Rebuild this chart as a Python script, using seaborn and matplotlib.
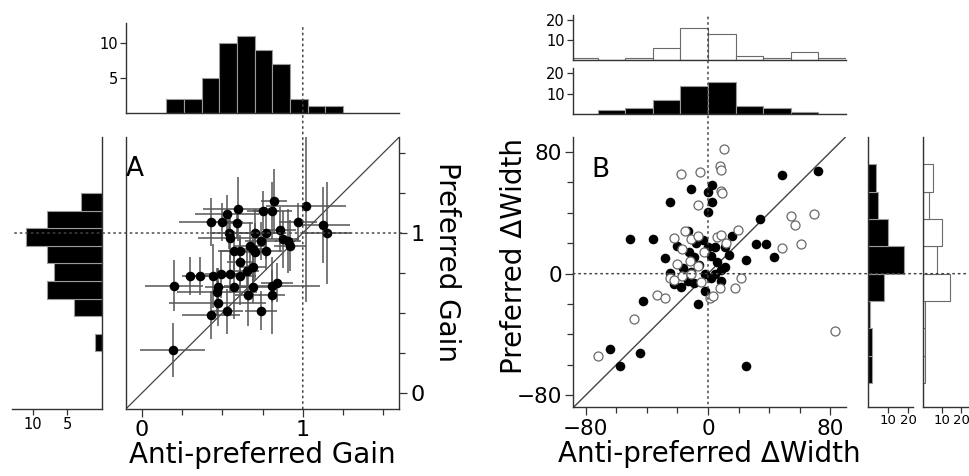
import matplotlib
matplotlib.use("Agg")
import matplotlib.pyplot as plt
import numpy as np
import seaborn as sns
from matplotlib.patches import ConnectionPatch

sns.set_theme(style="ticks")
plt.rcParams["font.family"] = ["DejaVu Sans"]
plt.rcParams["text.color"] = "black"
plt.rcParams["axes.labelcolor"] = "black"

# ---- panel A: gains ------------------------------------------------------
gain_anti = [0.19, 0.20, 0.30, 0.36, 0.44, 0.49, 0.55, 0.61, 0.65, 0.465,
             0.57, 0.66, 0.69, 0.47, 0.43, 0.53, 0.74, 0.81, 0.81, 0.84,
             0.61, 0.57, 0.61, 0.67, 0.69, 0.70, 0.77, 0.55, 0.54, 0.70,
             0.77, 0.86, 0.875, 0.91, 0.92, 0.43, 0.50, 0.59, 0.53, 0.60,
             0.75, 0.81, 0.82, 0.97, 1.02, 1.125, 1.15, 0.69, 0.47, 0.74]
gain_pref = [0.27, 0.67, 0.73, 0.73, 0.73, 0.745, 0.745, 0.73, 0.76, 0.63,
             0.66, 0.61, 0.66, 0.56, 0.49, 0.51, 0.515, 0.61, 0.67, 0.69,
             0.82, 0.89, 0.89, 0.92, 0.90, 0.88, 0.89, 0.97, 1.00, 1.00,
             1.00, 1.02, 0.96, 0.95, 0.92, 1.07, 1.07, 1.06, 1.12, 1.15,
             1.14, 1.14, 1.20, 1.07, 1.17, 1.05, 1.00, 0.79, 0.66, 0.95]
gain_anti_err = [0.20, 0.18, 0.05, 0.05, 0.17, 0.10, 0.12, 0.10, 0.08, 0.25,
                 0.10, 0.08, 0.12, 0.30, 0.18, 0.10, 0.10, 0.08, 0.30, 0.10,
                 0.08, 0.10, 0.12, 0.10, 0.08, 0.10, 0.10, 0.20, 0.12, 0.10,
                 0.12, 0.10, 0.10, 0.08, 0.10, 0.20, 0.10, 0.10, 0.20, 0.22,
                 0.10, 0.12, 0.08, 0.12, 0.25, 0.17, 0.15, 0.08, 0.08, 0.10]
gain_pref_err = [0.17, 0.16, 0.12, 0.12, 0.20, 0.15, 0.12, 0.18, 0.14, 0.15,
                 0.20, 0.19, 0.10, 0.14, 0.15, 0.14, 0.12, 0.24, 0.10, 0.12,
                 0.15, 0.12, 0.10, 0.15, 0.12, 0.18, 0.12, 0.14, 0.10, 0.15,
                 0.16, 0.14, 0.18, 0.20, 0.16, 0.15, 0.12, 0.10, 0.12, 0.20,
                 0.12, 0.18, 0.20, 0.12, 0.60, 0.24, 0.32, 0.10, 0.12, 0.12]

gain_edges = [0.15, 0.26, 0.37, 0.48, 0.59, 0.70, 0.81, 0.92, 1.03, 1.14, 1.25]
gain_anti_counts = [2, 2, 5, 10, 11, 9, 7, 2, 1, 1]
gain_pref_counts = [0, 1, 0, 4, 8, 7, 8, 11, 8, 3]

# ---- panel B: widths -----------------------------------------------------
filled_anti = [48.6, 71.9, 33.8, 31.4, 38.2, 43.0, 25.0, 16.0, -11.4, -24.5,
               2.4, 0.0, 2.6, 0.3, -51.0, -36.1, -64.2, -57.6, -44.5, 25.0,
               -42.6, -6.5, -2.2, -17.7, -22.4, -25.0, -13.3, -20.5, -12.2, -8.9,
               -5.6, -11.0, 0.0, 4.4, 11.4, 2.2, 10.9, 8.8, 4.4, -2.1,
               8.7, -13.0, -8.0, -16.0, -9.0, 6.0, 14.0, 2.0, -3.0, -28.0]
filled_pref = [65.0, 67.4, 35.8, 19.8, 19.8, 11.0, 8.8, 24.7, 56.0, 47.3,
               58.4, 54.0, 47.3, 40.4, 22.5, 22.5, -49.4, -60.9, -52.0, -60.9,
               -18.2, -20.2, -11.2, -9.0, -6.5, 0.2, -4.6, 18.3, 14.3, 11.0,
               5.5, 1.0, 17.6, 17.6, 17.6, 11.5, 4.4, 2.2, 0.0, 0.0,
               -4.6, 28.0, 20.0, 4.0, -6.0, 8.0, 12.0, -3.0, 22.0, 10.0]
open_anti = [10.2, -17.4, -5.4, 7.6, 8.5, 8.7, 9.4, -6.5, 69.3, 54.1,
             56.9, 19.6, -22.5, -14.8, -10.9, -6.5, 5.9, 8.7, 12.0, 48.6,
             61.0, -17.2, -20.0, -12.0, -6.5, -24.6, -22.5, -16.8, -11.3, -4.4,
             -2.8, 21.8, 17.4, 8.1, 1.1, 3.3, -33.4, -27.9, -48.4, -72.0, 83.3]
open_pref = [81.8, 65.7, 67.2, 70.7, 68.5, 54.7, 53.1, 45.4, 39.2, 37.7,
             32.0, 28.9, 23.4, 27.8, 23.1, 24.7, 24.2, 25.3, 20.5, 16.8,
             19.4, 16.1, 6.2, 8.4, 5.1, -2.6, -4.4, -1.8, 0.0, -5.3,
             14.5, -2.6, -9.3, -9.7, -16.3, -14.8, -13.7, -16.3, -29.8, -54.4, -37.9]

width_edges = [-90, -72, -54, -36, -18, 0, 18, 36, 54, 72, 90]
filled_anti_counts = [0, 2, 3, 7, 14, 16, 4, 3, 1, 0]
open_anti_counts = [1, 0, 1, 6, 16, 13, 2, 1, 4, 1]
filled_pref_counts = [0, 2, 2, 1, 8, 18, 10, 5, 4, 0]
open_pref_counts = [0, 1, 1, 1, 14, 7, 10, 3, 5, 0]

SPINE = "#333333"
FILL_EDGE = "#9a9a9a"
OPEN_EDGE = "#6a6a6a"


def style_axes(ax, spines, size=10):
    for side in ["top", "bottom", "left", "right"]:
        ax.spines[side].set_visible(side in spines)
        ax.spines[side].set_color(SPINE)
        ax.spines[side].set_linewidth(1.0)
    ax.tick_params(which="both", direction="out", color=SPINE, width=0.9,
                   labelsize=size, labelcolor="black", pad=2)
    ax.tick_params(which="major", length=4)
    ax.set_xlabel("")
    ax.set_ylabel("")


def centers(edges):
    e = np.asarray(edges, dtype=float)
    return (e[:-1] + e[1:]) / 2


def hist(ax, edges, counts, filled, horizontal=False):
    kw = dict(weights=counts, bins=edges, ax=ax, alpha=1, linewidth=0.8)
    if filled:
        kw.update(color="black", edgecolor=FILL_EDGE)
    else:
        kw.update(color="white", edgecolor=OPEN_EDGE)
    if horizontal:
        sns.histplot(y=centers(edges), **kw)
    else:
        sns.histplot(x=centers(edges), **kw)


def link(fig, ax1, p1, ax2, p2):
    con = ConnectionPatch(xyA=p1, coordsA=ax1.transData, xyB=p2, coordsB=ax2.transData,
                          linestyle=(0, (1.0, 2.6)), color="#444444", linewidth=1.1,
                          zorder=5, clip_on=False)
    fig.add_artist(con)


fig = plt.figure(figsize=(9.69, 4.76), dpi=100)

# ================= panel A =================
ax_a = fig.add_axes([0.130, 0.141, 0.282, 0.571])
ax_a_top = fig.add_axes([0.130, 0.763, 0.282, 0.189])
ax_a_left = fig.add_axes([0.0124, 0.141, 0.093, 0.571])

lim_a = (-0.1, 1.6)
ax_a.plot(lim_a, lim_a, color="#444444", linewidth=0.9, zorder=1)
ax_a.errorbar(gain_anti, gain_pref, xerr=gain_anti_err, yerr=gain_pref_err,
              fmt="none", ecolor="#555555", elinewidth=1.1, capsize=0, zorder=2)
sns.scatterplot(x=gain_anti, y=gain_pref, ax=ax_a, color="black", s=48,
                linewidth=0, zorder=3)
ax_a.set_xlim(lim_a)
ax_a.set_ylim(lim_a)
style_axes(ax_a, ["left", "bottom", "right"], size=16)
ax_a.yaxis.tick_right()
ax_a.yaxis.set_label_position("right")
ax_a.set_xticks([0, 1])
ax_a.set_xticks([0.25, 0.5, 0.75, 1.25, 1.5], minor=True)
ax_a.set_yticks([0, 1])
ax_a.set_yticks([0.25, 0.5, 0.75, 1.25, 1.5], minor=True)
ax_a.tick_params(which="major", length=6)
ax_a.tick_params(which="minor", length=4)
ax_a.set_xlabel("Anti-preferred Gain", fontsize=20, labelpad=1)
ax_a.set_ylabel("Preferred Gain", fontsize=20, rotation=270, labelpad=26)
ax_a.yaxis.label.set_y(0.54)
ax_a.text(0.0, 0.855, "A", transform=ax_a.transAxes, fontsize=19,
          ha="left", va="baseline")

hist(ax_a_top, gain_edges, gain_anti_counts, filled=True)
ax_a_top.set_xlim(lim_a)
ax_a_top.set_ylim(0, 12.9)
style_axes(ax_a_top, ["left", "bottom"], size=10.5)
ax_a_top.set_xticks([])
ax_a_top.set_yticks([5, 10])

hist(ax_a_left, gain_edges, gain_pref_counts, filled=True, horizontal=True)
ax_a_left.set_ylim(lim_a)
ax_a_left.set_xlim(13, 0)
style_axes(ax_a_left, ["right", "bottom"], size=10.5)
ax_a_left.set_yticks([])
ax_a_left.set_xticks([10, 5])

link(fig, ax_a_top, (1, 12.2), ax_a, (1, lim_a[0]))
link(fig, ax_a_left, (12.6, 1), ax_a, (1.62, 1))

# ================= panel B =================
lim_b = (-88, 90)
ax_b = fig.add_axes([0.5917, 0.144, 0.281, 0.5685])
ax_b_open = fig.add_axes([0.5917, 0.875, 0.281, 0.093])
ax_b_fill = fig.add_axes([0.5917, 0.760, 0.281, 0.0966])
ax_b_rfill = fig.add_axes([0.896, 0.144, 0.0464, 0.5685])
ax_b_ropen = fig.add_axes([0.9528, 0.144, 0.0472, 0.5685])

ax_b.plot(lim_b, lim_b, color="#444444", linewidth=1.0, zorder=1)
sns.scatterplot(x=filled_anti, y=filled_pref, ax=ax_b, color="black", s=48,
                linewidth=0, zorder=3)
sns.scatterplot(x=open_anti, y=open_pref, ax=ax_b, facecolor="white",
                edgecolor=OPEN_EDGE, s=42, linewidth=0.9, zorder=4)
ax_b.set_xlim(lim_b)
ax_b.set_ylim(lim_b)
style_axes(ax_b, ["left", "bottom"], size=15.5)
ax_b.set_xticks([-80, 0, 80])
ax_b.set_xticks([-60, -40, -20, 20, 40, 60], minor=True)
ax_b.set_yticks([-80, 0, 80])
ax_b.set_yticks([-60, -40, -20, 20, 40, 60], minor=True)
ax_b.tick_params(which="major", length=6)
ax_b.tick_params(which="minor", length=4)
ax_b.set_xlabel("Anti-preferred \u0394Width", fontsize=20, labelpad=1)
ax_b.set_ylabel("Preferred \u0394Width", fontsize=20, labelpad=-8)
ax_b.yaxis.label.set_y(0.56)
ax_b.text(0.068, 0.851, "B", transform=ax_b.transAxes, fontsize=19,
          ha="left", va="baseline")

hist(ax_b_open, width_edges, open_anti_counts, filled=False)
hist(ax_b_fill, width_edges, filled_anti_counts, filled=True)
for ax in (ax_b_open, ax_b_fill):
    ax.set_xlim(lim_b)
    ax.set_ylim(0, 22.5)
    style_axes(ax, ["left", "bottom"], size=10.5)
    ax.set_xticks([])
    ax.set_yticks([10, 20])

hist(ax_b_rfill, width_edges, filled_pref_counts, filled=True, horizontal=True)
hist(ax_b_ropen, width_edges, open_pref_counts, filled=False, horizontal=True)
for ax, xmax in ((ax_b_rfill, 22.5), (ax_b_ropen, 24.0)):
    ax.set_ylim(lim_b)
    ax.set_xlim(0, xmax)
    style_axes(ax, ["left", "bottom"], size=9.5)
    ax.set_yticks([])
    ax.set_xticks([10, 20])
    ax.tick_params(axis="x", pad=1)

link(fig, ax_b_open, (0, 21.5), ax_b, (0, lim_b[0]))
link(fig, ax_b, (lim_b[0], 0), ax_b_ropen, (24.0, 0))

fig.savefig("out.png", dpi=100)
